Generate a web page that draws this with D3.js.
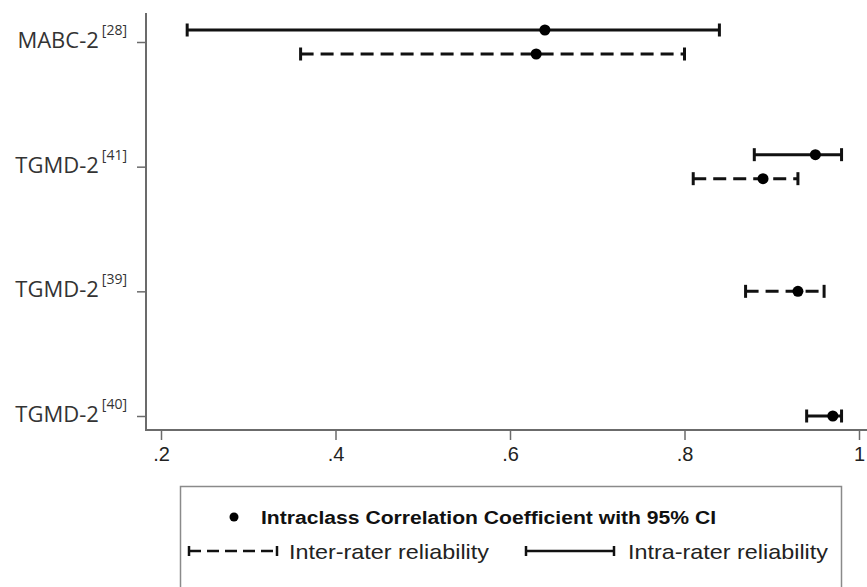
<!DOCTYPE html>
<html>
<head>
<meta charset="utf-8">
<script src="https://cdn.jsdelivr.net/npm/d3@7"></script>
<style>
  html, body { margin: 0; padding: 0; background: #fff; }
  svg { display: block; }
</style>
</head>
<body>
<script>
// ---- data ----
const studies = ["MABC-2", "TGMD-2", "TGMD-2", "TGMD-2"];
const refs = ["28", "41", "39", "40"];
const intraICC = [0.64, 0.95, null, 0.97];
const intraLow = [0.23, 0.88, null, 0.94];
const intraHigh = [0.84, 0.98, null, 0.98];
const interICC = [0.63, 0.89, 0.93, null];
const interLow = [0.36, 0.81, 0.87, null];
const interHigh = [0.80, 0.93, 0.96, null];
const xTicks = [0.2, 0.4, 0.6, 0.8, 1];

const W = 867, H = 587;
const svg = d3.select("body").append("svg").attr("width", W).attr("height", H);

const x = d3.scaleLinear().domain([0.2, 1]).range([161, 859]);
const y = d3.scalePoint().domain(d3.range(studies.length)).range([42, 416]);
const axisX = 146, axisY = 430, axisTop = 13;
const axisColor = "#6b6b6b";

// build rows
const rows = [];
studies.forEach((s, i) => {
  const both = intraICC[i] != null && interICC[i] != null;
  if (intraICC[i] != null) rows.push({i, type: "intra", est: intraICC[i], lo: intraLow[i], hi: intraHigh[i], off: both ? -12 : 0});
  if (interICC[i] != null) rows.push({i, type: "inter", est: interICC[i], lo: interLow[i], hi: interHigh[i], off: both ? 12 : 0});
});

// axes lines
svg.append("line").attr("x1", axisX).attr("x2", axisX).attr("y1", axisTop).attr("y2", axisY)
  .attr("stroke", axisColor).attr("stroke-width", 2);
svg.append("line").attr("x1", axisX - 1).attr("x2", W).attr("y1", axisY).attr("y2", axisY)
  .attr("stroke", axisColor).attr("stroke-width", 2);

// x axis ticks
const gx = svg.append("g").attr("transform", `translate(0,${axisY + 1})`)
  .call(d3.axisBottom(x).tickValues(xTicks).tickSize(9).tickPadding(7)
    .tickFormat(d => d === 1 ? "1" : d3.format(".1f")(d).replace(/^0/, "")));
gx.select(".domain").remove();
gx.selectAll(".tick line").attr("stroke", axisColor).attr("stroke-width", 1.5);
gx.selectAll(".tick text").attr("fill", "#222").style("font-family", "Liberation Sans, Arial, sans-serif")
  .style("font-size", "20px");

// y axis ticks
const gy = svg.append("g").attr("transform", `translate(${axisX},0)`)
  .call(d3.axisLeft(y).tickSize(9).tickFormat(""));
gy.select(".domain").remove();
gy.selectAll(".tick line").attr("stroke", axisColor).attr("stroke-width", 1.5);

// y labels with superscript
studies.forEach((s, i) => {
  const t = svg.append("text")
    .attr("x", 127).attr("y", y(i) + 6)
    .attr("text-anchor", "end")
    .attr("fill", "#333")
    .style("font-family", "Open Sans, sans-serif")
    .style("font-size", "22px");
  t.append("tspan").text(s);
  t.append("tspan").attr("dx", 3).attr("dy", -13).style("font-size", "14px").text(`[${refs[i]}]`);
});

// error bars
const capH = 6.5;
const bars = svg.append("g");
rows.forEach(r => {
  const yy = y(r.i) + r.off;
  const g = bars.append("g");
  g.append("line").attr("x1", x(r.lo)).attr("x2", x(r.hi)).attr("y1", yy).attr("y2", yy)
    .attr("stroke", "#111").attr("stroke-width", 3)
    .attr("stroke-dasharray", r.type === "inter" ? "13,7" : null);
  [r.lo, r.hi].forEach(v => {
    g.append("line").attr("x1", x(v)).attr("x2", x(v)).attr("y1", yy - capH).attr("y2", yy + capH)
      .attr("stroke", "#111").attr("stroke-width", 3);
  });
  g.append("circle").attr("cx", x(r.est)).attr("cy", yy).attr("r", 5.5).attr("fill", "#000");
});

// legend
const lg = svg.append("g");
lg.append("rect").attr("x", 180.5).attr("y", 486.5).attr("width", 661).attr("height", 110)
  .attr("fill", "#fff").attr("stroke", "#8a8a8a").attr("stroke-width", 1.5);
lg.append("circle").attr("cx", 234).attr("cy", 517).attr("r", 4.5).attr("fill", "#000");
lg.append("text").attr("x", 261).attr("y", 524)
  .attr("textLength", 455).attr("lengthAdjust", "spacingAndGlyphs")
  .style("font-family", "Liberation Sans, Arial, sans-serif").style("font-weight", "bold")
  .style("font-size", "18px").attr("fill", "#111")
  .text("Intraclass Correlation Coefficient with 95% CI");

const ly = 551;
function legendBar(x1, x2, dashed) {
  lg.append("line").attr("x1", x1).attr("x2", x2).attr("y1", ly).attr("y2", ly)
    .attr("stroke", "#111").attr("stroke-width", 2.5).attr("stroke-dasharray", dashed ? "12,6" : null);
  [x1, x2].forEach(v => lg.append("line").attr("x1", v).attr("x2", v).attr("y1", ly - 5).attr("y2", ly + 5)
    .attr("stroke", "#111").attr("stroke-width", 2.5));
}
legendBar(189, 277, true);
legendBar(526, 614, false);
lg.append("text").attr("x", 289).attr("y", 559).attr("textLength", 200).attr("lengthAdjust", "spacingAndGlyphs")
  .style("font-family", "Liberation Sans, Arial, sans-serif").style("font-size", "21px").attr("fill", "#222")
  .text("Inter-rater reliability");
lg.append("text").attr("x", 628).attr("y", 559).attr("textLength", 200).attr("lengthAdjust", "spacingAndGlyphs")
  .style("font-family", "Liberation Sans, Arial, sans-serif").style("font-size", "21px").attr("fill", "#222")
  .text("Intra-rater reliability");
</script>
</body>
</html>
